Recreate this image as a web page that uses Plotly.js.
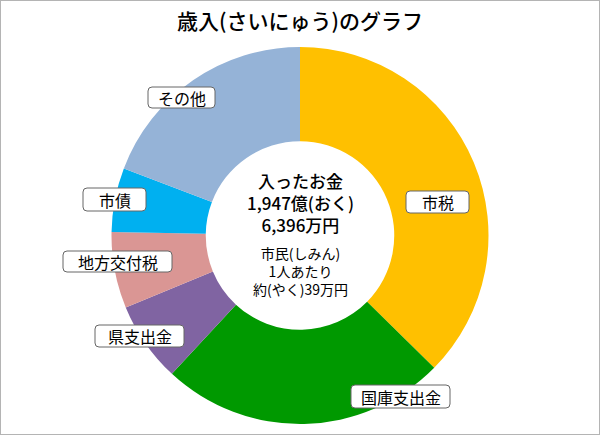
<!DOCTYPE html>
<html lang="ja">
<head>
<meta charset="utf-8">
<title>歳入(さいにゅう)のグラフ</title>
<script src="https://cdn.plot.ly/plotly-3.0.1.min.js"></script>
<style>
  body { margin: 0; background: #fff; }
  #wrap { width: 598px; height: 433px; border: 1px solid #b4b4b4; }
</style>
</head>
<body>
<div id="wrap"><div id="chart"></div></div>
<script>
// 歳入の内訳（億円、グラフから読み取り）
var categories = ["市税", "国庫支出金", "県支出金", "地方交付税", "市債", "その他"];
var amounts = [728, 477, 134, 127, 107, 374];
var colors = ["#FFC000", "#009900", "#8064A2", "#DA9694", "#00B0F0", "#95B3D7"];

var centerLines = ["入ったお金", "1,947億(おく)", "6,396万円"];
var perPersonLines = ["市民(しみん)", "1人あたり", "約(やく)39万円"];

var jp = "'Noto Sans CJK JP', 'Noto Sans', sans-serif";
var jpMed = "'Noto Sans CJK JP Medium', 'Noto Sans CJK JP', sans-serif";

// label boxes in pixels: [x0, x1, y0, y1]
var labelBoxes = [[406, 469, 191, 213], [351, 450, 385, 408], [95, 184, 325, 347],
                  [63, 172, 251, 272], [83, 146, 188, 211], [148, 215, 87, 108]];

var W = 598, H = 433, T = 46, B = 10;
var plotH = H - T - B;
function px(x) { return (x - 1) / W; }
function py(y) { return 1 - (y - 1 - T) / plotH; }

function roundRect(b, r) {
    var x0 = b[0], x1 = b[1], y0 = b[2], y1 = b[3];
    var pts = [
        "M", px(x0 + r), py(y0),
        "L", px(x1 - r), py(y0), "Q", px(x1), py(y0), px(x1), py(y0 + r),
        "L", px(x1), py(y1 - r), "Q", px(x1), py(y1), px(x1 - r), py(y1),
        "L", px(x0 + r), py(y1), "Q", px(x0), py(y1), px(x0), py(y1 - r),
        "L", px(x0), py(y0 + r), "Q", px(x0), py(y0), px(x0 + r), py(y0), "Z"
    ];
    return pts.join(" ");
}

var shapes = [];
var annotations = [];
for (var i = 0; i < categories.length; i++) {
    var b = labelBoxes[i];
    shapes.push({
        type: "path", xref: "paper", yref: "paper",
        path: roundRect(b, 4),
        fillcolor: "#ffffff",
        line: {color: "#666666", width: 1}
    });
    annotations.push({
        text: categories[i],
        xref: "paper", yref: "paper",
        x: px((b[0] + b[1]) / 2), y: py((b[2] + b[3]) / 2),
        xanchor: "center", yanchor: "middle",
        showarrow: false,
        font: {family: jp, size: 16, color: "#000"}
    });
}
annotations.push({
    text: centerLines.join("<br>"),
    xref: "paper", yref: "paper",
    x: 0.5, y: py(203),
    xanchor: "center", yanchor: "middle",
    showarrow: false,
    font: {family: jpMed, size: 17, color: "#000"}
});
annotations.push({
    text: perPersonLines.join("<br>"),
    xref: "paper", yref: "paper",
    x: 0.5, y: py(271),
    xanchor: "center", yanchor: "middle",
    showarrow: false,
    font: {family: jp, size: 14, color: "#000"}
});

var data = [{
    type: "pie",
    labels: categories,
    values: amounts,
    hole: 0.5,
    sort: false,
    direction: "clockwise",
    rotation: 0,
    marker: {colors: colors, line: {width: 0}},
    textinfo: "none",
    hoverinfo: "label+value+percent"
}];

var layout = {
    width: W, height: H,
    margin: {l: 0, r: 0, t: T, b: B},
    title: {
        text: "歳入(さいにゅう)のグラフ",
        font: {family: jpMed, size: 21, color: "#000"},
        x: 0.5, xanchor: "center",
        y: 1 - 21 / H, yref: "container", yanchor: "middle"
    },
    showlegend: false,
    paper_bgcolor: "#fff",
    shapes: shapes,
    annotations: annotations
};

Plotly.newPlot("chart", data, layout, {displayModeBar: false, staticPlot: true});
</script>
</body>
</html>
